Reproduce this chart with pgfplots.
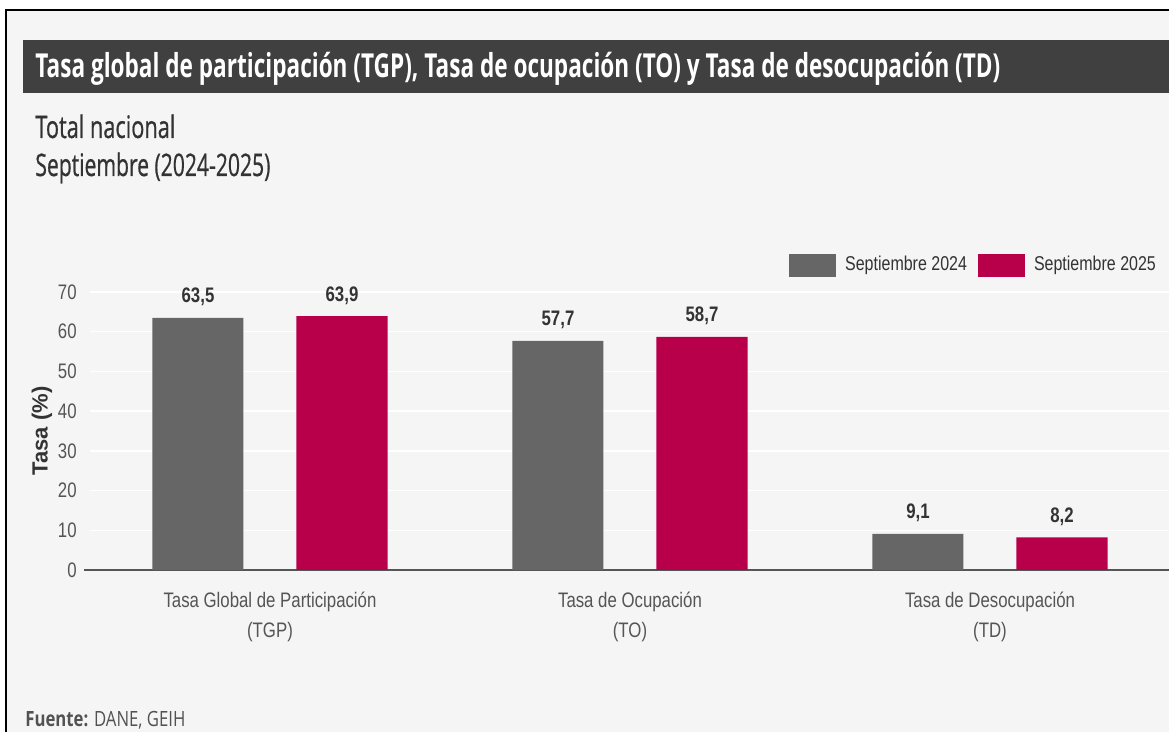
\documentclass[border=0pt]{standalone}
\usepackage{fontspec}
\usepackage{graphicx}
\usepackage{pgfplots}
\pgfplotsset{compat=1.18}
\setmainfont{Liberation Sans}
\newfontfamily\narrow[FakeStretch=0.8]{Liberation Sans}
\newfontfamily\osans{Open Sans}
\newfontfamily\osansm[FakeBold=0.8]{Open Sans}

\definecolor{bg}{HTML}{F5F5F5}
\definecolor{bar24}{HTML}{666666}
\definecolor{bar25}{HTML}{B8004A}
\definecolor{titlebar}{HTML}{404040}
\definecolor{txt}{HTML}{333333}
\definecolor{ticktxt}{HTML}{555555}

% tasas (%), septiembre 2024 y 2025
\pgfplotstableread{
x y24 y25
0 63.5 63.9
1 57.7 58.7
2 9.1 8.2
}\tasas

\begin{document}
\begin{tikzpicture}
% 1 px of the reference = 0.5pt
\useasboundingbox (0,0) rectangle (584.5pt,366pt);
\fill[white] (0,0) rectangle (584.5pt,366pt);
\fill[bg] (2.5pt,-5pt) rectangle (590pt,361pt);
\draw[black, line width=1.2pt] (3pt,-5pt) -- (3pt,361pt) -- (590pt,361pt);

% title bar
\fill[titlebar] (11.5pt,319.5pt) rectangle (590pt,346pt);
\node[anchor=base west, inner sep=0pt, text=white] at (17.5pt,327pt)
  {\resizebox{482.5pt}{\height}{\osans\bfseries\fontsize{16.5}{20}\selectfont Tasa global de participación (TGP), Tasa de ocupación (TO) y Tasa de desocupación (TD)}};
\node[anchor=base west, inner sep=0pt, text=txt] at (17.5pt,297pt)
  {\resizebox{70pt}{\height}{\osansm\fontsize{15.5}{18}\selectfont Total nacional}};
\node[anchor=base west, inner sep=0pt, text=txt] at (17.5pt,278pt)
  {\resizebox{117.5pt}{\height}{\osansm\fontsize{15.5}{18}\selectfont Septiembre (2024-2025)}};
\node[anchor=base west, inner sep=0pt, text=txt!85!white] at (12.5pt,2.5pt)
  {\resizebox{80pt}{\height}{\osans\fontsize{10.5}{12}\selectfont\textbf{Fuente:} DANE, GEIH}};

\begin{axis}[
  at={(45pt,81pt)}, anchor=south west,
  scale only axis, width=540pt, height=139pt,
  xmin=-0.5, xmax=2.5, ymin=0, ymax=70,
  ybar, bar width=45.5pt,
  axis x line*=bottom, axis y line*=left,
  y axis line style={draw=none},
  x axis line style={draw=ticktxt, line width=0.75pt, -},
  xtick={0,1,2}, ytick={0,10,...,70},
  xticklabels={{Tasa Global de Participación\\(TGP)},{Tasa de Ocupación\\(TO)},{Tasa de Desocupación\\(TD)}},
  major tick length=0pt,
  ymajorgrids, grid style={white, line width=0.7pt},
  extra y ticks={0}, extra y tick labels={},
  extra y tick style={grid=none, major tick length=3pt, tick align=outside,
    tick style={draw=ticktxt, line width=0.6pt}},
  tick label style={font=\narrow\fontsize{10.5}{15}\selectfont, text=ticktxt},
  /pgf/number format/assume math mode=true,
  yticklabel style={inner sep=0pt, xshift=-6.5pt},
  xticklabel style={align=center, inner sep=0pt, yshift=-11pt},
  ylabel={\bfseries Tasa (\%)},
  ylabel style={at={(axis description cs:-0.0444,0.5)}, anchor=center,
    font=\fontsize{11}{13}\selectfont, text=txt},
  nodes near coords={\pgfmathprintnumber[fixed,fixed zerofill,precision=1,use comma]{\pgfplotspointmeta}},
  nodes near coords style={font=\narrow\bfseries\fontsize{10.5}{12}\selectfont,
    text=txt, anchor=base, inner sep=0pt, yshift=7.5pt},
  clip=false,
  legend columns=2,
  legend image code/.code={\fill[#1] (0pt,-5.75pt) rectangle (23.5pt,5.75pt);},
  legend style={at={(0.647,1.097)}, anchor=west, draw=none, fill=none,
    inner sep=0pt, font=\narrow\fontsize{10}{12}\selectfont, text=txt,
    /tikz/every odd column/.append style={column sep=2.5pt},
    /tikz/every even column/.append style={column sep=3.5pt}},
]
\addplot[fill=bar24, draw=none, bar shift=-36pt] table[x=x, y=y24] {\tasas};
\addlegendentry{Septiembre 2024}
\addplot[fill=bar25, draw=none, bar shift=36pt] table[x=x, y=y25] {\tasas};
\addlegendentry{Septiembre 2025}
\end{axis}
\end{tikzpicture}
\end{document}
